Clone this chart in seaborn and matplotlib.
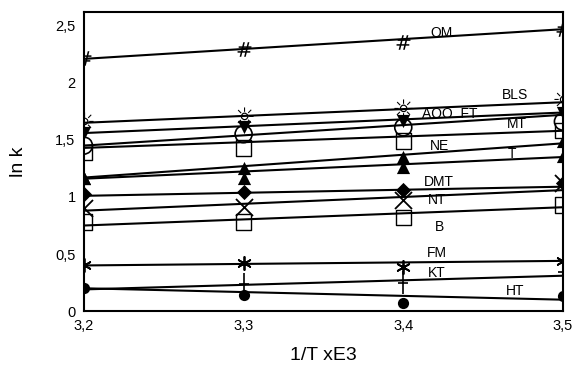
import matplotlib
matplotlib.use("Agg")
import matplotlib.pyplot as plt
import seaborn as sns
import numpy as np
import pandas as pd
from matplotlib.ticker import FuncFormatter
from matplotlib.path import Path

# ---------------- data ----------------
x_vals = [3.2, 3.3, 3.4, 3.5]
x_line = [3.2, 3.5]

series_names = ["OM", "BLS", "AOO", "FT", "MT", "NE", "T", "DMT", "NT", "B", "FM", "KT", "HT"]

OM = [2.22, 2.30, 2.36, 2.47]
BLS = [1.67, 1.71, 1.78, 1.86]
AOO = [1.56, 1.61, 1.67, 1.74]
FT = [1.45, 1.55, 1.61, 1.66]
MT = [1.39, 1.43, 1.49, 1.58]
NE = [1.17, 1.25, 1.35, 1.49]
T = [1.17, 1.17, 1.26, 1.36]
DMT = [1.03, 1.04, 1.06, 1.12]
NT = [0.90, 0.91, 0.97, 1.12]
B = [0.78, 0.78, 0.82, 0.93]
FM = [0.40, 0.42, 0.39, 0.44]
KT = [0.19, 0.24, 0.25, 0.34]
HT = [0.20, 0.14, 0.07, 0.13]

# fitted line end values (at 3.2 and 3.5)
OM_fit = [2.21, 2.47]
BLS_fit = [1.65, 1.83]
AOO_fit = [1.56, 1.74]
FT_fit = [1.45, 1.72]
MT_fit = [1.43, 1.58]
NE_fit = [1.17, 1.47]
T_fit = [1.16, 1.35]
DMT_fit = [1.01, 1.09]
NT_fit = [0.88, 1.06]
B_fit = [0.75, 0.91]
FM_fit = [0.40, 0.44]
KT_fit = [0.19, 0.31]
HT_fit = [0.20, 0.10]

x_ticks = [3.2, 3.3, 3.4, 3.5]
y_ticks = [0, 0.5, 1, 1.5, 2, 2.5]

points = {"OM": OM, "BLS": BLS, "AOO": AOO, "FT": FT, "MT": MT, "NE": NE, "T": T,
          "DMT": DMT, "NT": NT, "B": B, "FM": FM, "KT": KT, "HT": HT}
fits = {"OM": OM_fit, "BLS": BLS_fit, "AOO": AOO_fit, "FT": FT_fit, "MT": MT_fit,
        "NE": NE_fit, "T": T_fit, "DMT": DMT_fit, "NT": NT_fit, "B": B_fit,
        "FM": FM_fit, "KT": KT_fit, "HT": HT_fit}

pts_df = pd.DataFrame([(n, x, y) for n in series_names for x, y in zip(x_vals, points[n])],
                      columns=["series", "x", "y"])
fit_df = pd.DataFrame([(n, x, y) for n in series_names for x, y in zip(x_line, fits[n])],
                      columns=["series", "x", "y"])

# ---------------- style ----------------
sns.set_theme(style="white")
plt.rcParams["font.family"] = ["Liberation Sans", "DejaVu Sans"]

fig = plt.figure(figsize=(5.75, 3.66), dpi=100)
ax = fig.add_axes([0.146, 0.150, 0.833, 0.817])

# lines
sns.lineplot(data=fit_df, x="x", y="y", units="series", estimator=None,
             color="black", linewidth=1.5, ax=ax, legend=False)

# tall cross marker (long vertical, short horizontal)
kt_marker = Path([(-0.45, 0), (0.45, 0), (0, -1), (0, 1)],
                 [Path.MOVETO, Path.LINETO, Path.MOVETO, Path.LINETO])

marker_style = {
    "OM": dict(marker=r"$\#$", s=110, color="black", linewidths=0),
    "BLS": dict(marker="$\u263c$", s=170, color="black", linewidths=0),
    "AOO": dict(marker="v", s=90, color="black", linewidths=0),
    "FT": dict(marker="o", s=150, facecolors="none", edgecolors="black", linewidths=1.2),
    "MT": dict(marker="s", s=120, facecolors="none", edgecolors="black", linewidths=1.0),
    "NE": dict(marker="^", s=90, color="black", linewidths=0),
    "T": dict(marker="^", s=90, color="black", linewidths=0),
    "DMT": dict(marker="D", s=60, color="black", linewidths=0),
    "NT": dict(marker="x", s=150, color="black", linewidths=1.3),
    "B": dict(marker="s", s=120, facecolors="none", edgecolors="black", linewidths=1.0),
    "FM": dict(marker=(6, 2, 0), s=90, color="black", linewidths=1.3),
    "KT": dict(marker=kt_marker, s=260, facecolors="none", edgecolors="black", linewidths=1.2),
    "HT": dict(marker="o", s=65, color="black", linewidths=0),
}

for n in series_names:
    sub = pts_df[pts_df["series"] == n]
    sns.scatterplot(data=sub, x="x", y="y", ax=ax, legend=False, zorder=3,
                    **marker_style[n])

# series labels
labels_pos = {
    "OM": (3.424, 2.44), "BLS": (3.470, 1.89), "AOO  FT": (3.429, 1.73),
    "MT": (3.471, 1.64), "NE": (3.423, 1.45), "T": (3.468, 1.38),
    "DMT": (3.422, 1.13), "NT": (3.421, 0.97), "B": (3.423, 0.74),
    "FM": (3.421, 0.51), "KT": (3.421, 0.33), "HT": (3.470, 0.18),
}
for txt, (lx, ly) in labels_pos.items():
    ax.text(lx, ly, txt, ha="center", va="center", fontsize=10, color="black")

ax.set_xlim(3.2, 3.5)
ax.set_ylim(0, 2.62)
ax.set_xticks(x_ticks)
ax.set_yticks(y_ticks)
fmt = FuncFormatter(lambda v, p: ("%g" % v).replace(".", ","))
ax.xaxis.set_major_formatter(fmt)
ax.yaxis.set_major_formatter(fmt)
ax.tick_params(axis="both", length=0, labelsize=10.5, colors="black", pad=6)

for sp in ax.spines.values():
    sp.set_visible(True)
    sp.set_color("black")
    sp.set_linewidth(1.5)

ax.set_xlabel("1/T xE3", fontsize=14, color="black", labelpad=10)
ax.set_ylabel("ln k", fontsize=14, color="black", labelpad=20)
ax.grid(False)

fig.savefig("out.png", dpi=100)
